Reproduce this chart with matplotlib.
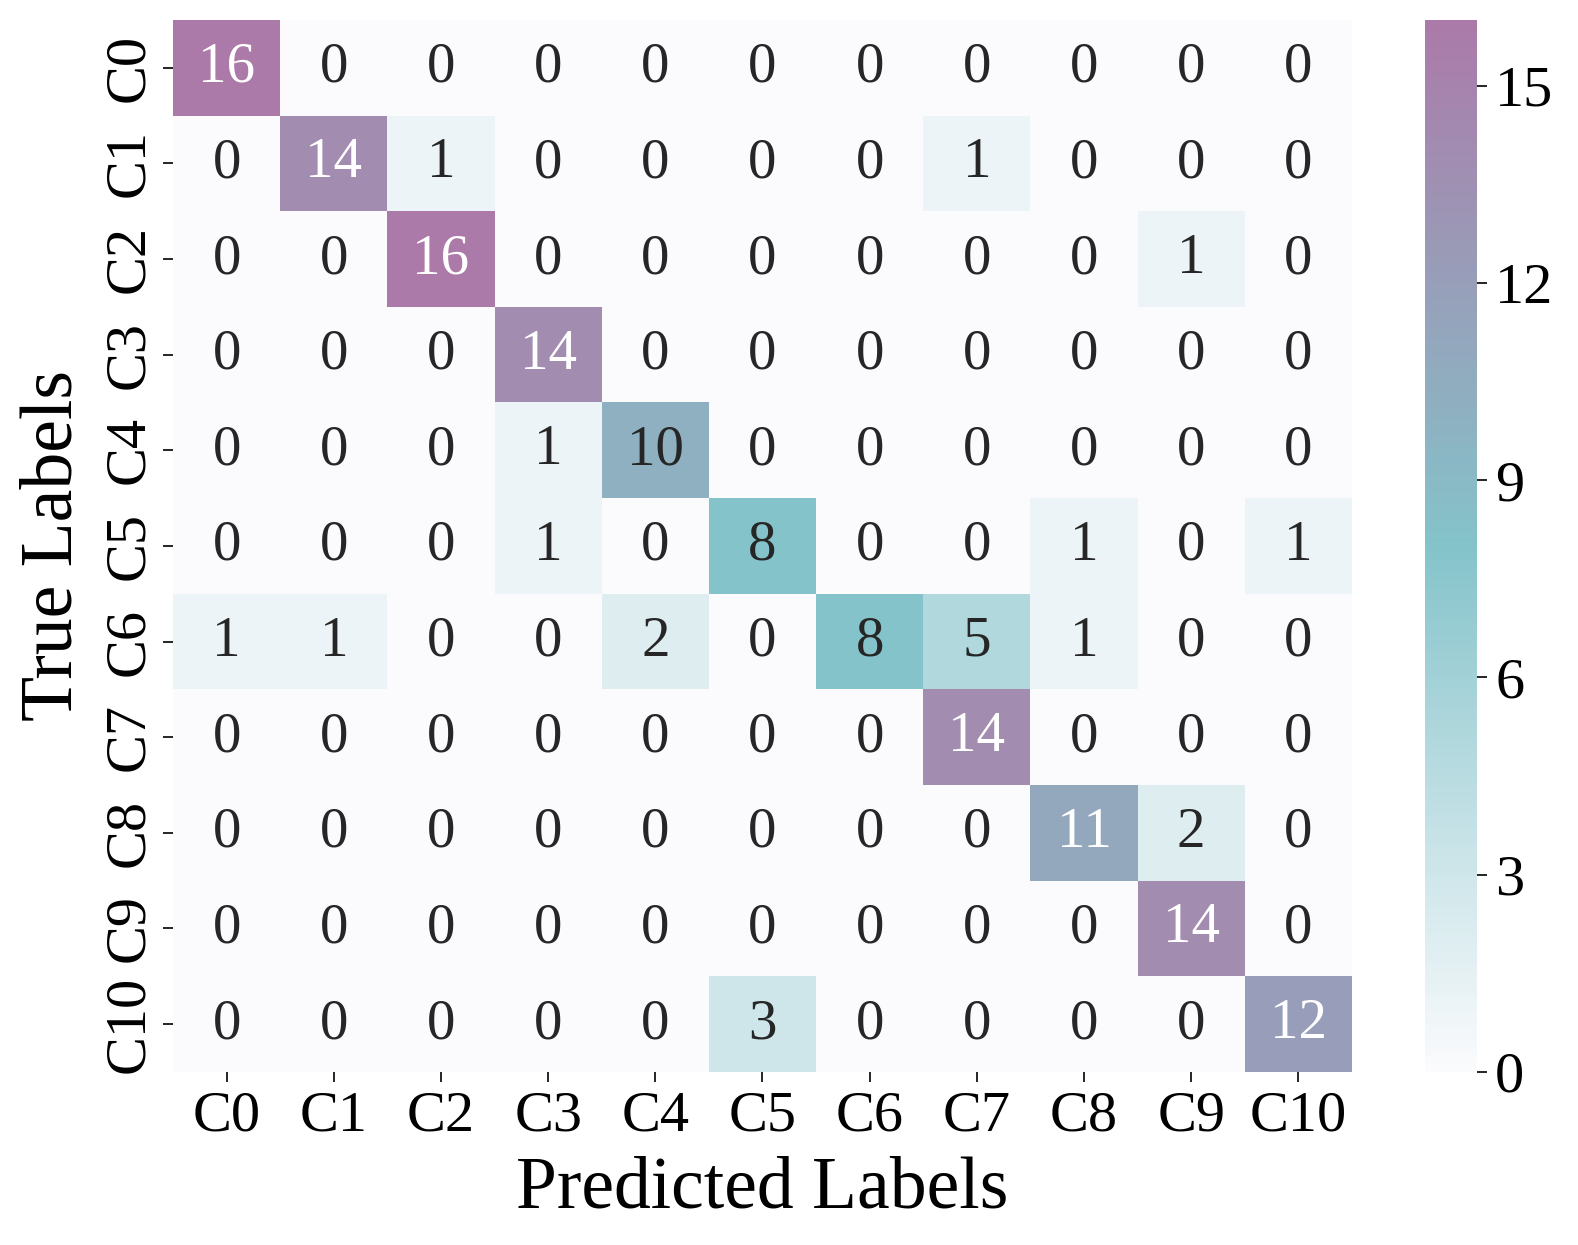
import numpy as np
import pandas as pd
import seaborn as sns
import matplotlib.pyplot as plt
from matplotlib.colors import LinearSegmentedColormap

# Confusion matrix values (rows = true, cols = predicted)
labels = ['C0', 'C1', 'C2', 'C3', 'C4', 'C5', 'C6', 'C7', 'C8', 'C9', 'C10']
row_c0 = [16, 0, 0, 0, 0, 0, 0, 0, 0, 0, 0]
row_c1 = [0, 14, 1, 0, 0, 0, 0, 1, 0, 0, 0]
row_c2 = [0, 0, 16, 0, 0, 0, 0, 0, 0, 1, 0]
row_c3 = [0, 0, 0, 14, 0, 0, 0, 0, 0, 0, 0]
row_c4 = [0, 0, 0, 1, 10, 0, 0, 0, 0, 0, 0]
row_c5 = [0, 0, 0, 1, 0, 8, 0, 0, 1, 0, 1]
row_c6 = [1, 1, 0, 0, 2, 0, 8, 5, 1, 0, 0]
row_c7 = [0, 0, 0, 0, 0, 0, 0, 14, 0, 0, 0]
row_c8 = [0, 0, 0, 0, 0, 0, 0, 0, 11, 2, 0]
row_c9 = [0, 0, 0, 0, 0, 0, 0, 0, 0, 14, 0]
row_c10 = [0, 0, 0, 0, 0, 3, 0, 0, 0, 0, 12]
cbar_ticks = [0, 3, 6, 9, 12, 15]

cm = pd.DataFrame([row_c0, row_c1, row_c2, row_c3, row_c4, row_c5,
                   row_c6, row_c7, row_c8, row_c9, row_c10],
                  index=labels, columns=labels)

plt.rcParams['font.family'] = ['Liberation Serif', 'DejaVu Serif']

# white -> teal -> purple
cmap = LinearSegmentedColormap.from_list('tealpurple', ['#fbfbfd', '#84c3ca', '#ab7aa8'])

fig = plt.figure(figsize=(15.78, 12.45), dpi=100)
ax = fig.add_axes([0.1097, 0.139, 0.747, 0.845])
cax = fig.add_axes([0.903, 0.139, 0.033, 0.845])

sns.heatmap(cm, annot=True, fmt='d', cmap=cmap, vmin=0, vmax=16, ax=ax, cbar_ax=cax,
            annot_kws={'size': 41}, cbar_kws={'ticks': cbar_ticks})

ax.set_xlabel('Predicted Labels', fontsize=53, labelpad=10)
ax.set_ylabel('True Labels', fontsize=53, labelpad=11)
ax.tick_params(axis='both', labelsize=42, length=7, width=1.2, pad=6)
ax.set_yticklabels(labels, rotation=90, va='center')
ax.set_xticklabels(labels, rotation=0)

cax.tick_params(labelsize=42, length=7, width=1.2, pad=6)
for s in cax.spines.values():
    s.set_visible(False)

plt.savefig('out.png', dpi=100)
